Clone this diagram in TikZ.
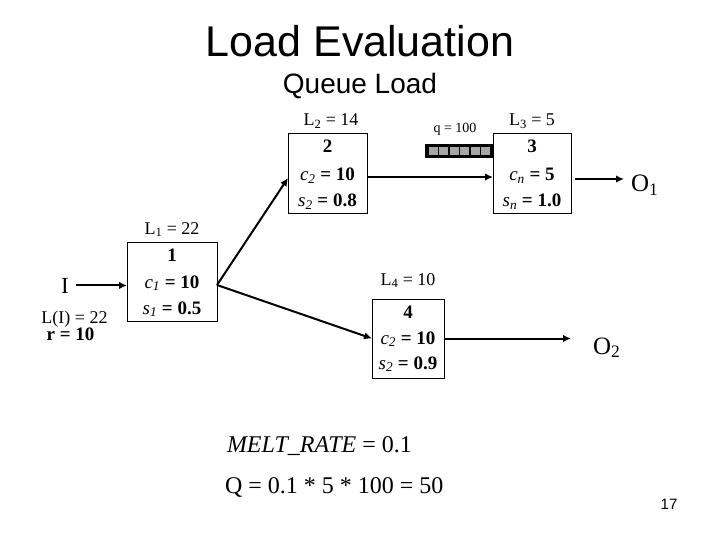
\documentclass[tikz,border=0pt]{standalone}
\usepackage{fontspec}
\setmainfont{Liberation Serif}
\newfontfamily\arialf{Liberation Sans}
\usetikzlibrary{arrows.meta}
\begin{document}
\begin{tikzpicture}[x=1pt,y=-1pt,
  every node/.style={inner sep=0pt, outer sep=0pt},
  procbox/.style={draw=black, line width=0.9pt},
  boxtxt/.style={anchor=base, font=\fontsize{19}{22}\selectfont\bfseries},
  lbl/.style={anchor=base, font=\fontsize{18}{21}\selectfont},
  conn/.style={line width=2pt, -{Latex[length=8pt,width=7.5pt]}},
  cell/.style={fill=black!35, draw=none},
]
\useasboundingbox (0,0) rectangle (720,540);
% titles
\node[anchor=base, font=\arialf\fontsize{43}{50}\selectfont] (title) at (360,57) {Load Evaluation};
\node[anchor=base, font=\arialf\fontsize{28}{32}\selectfont] (subtitle) at (360,94) {Queue Load};

% input
\node[anchor=base, font=\fontsize{23}{26}\selectfont] (inp) at (65,293) {I};
\node[lbl] (inpL) at (74.5,323) {L(I) = 22};
\node[lbl, font=\fontsize{19}{22}\selectfont\bfseries] (inpr) at (70.5,340) {r = 10};

% box 1
\node[procbox, minimum width=90, minimum height=79] (box1) at (172,281.5) {};
\node[lbl] (L1) at (172,234) {L\textsubscript{1} = 22};
\node[boxtxt] (b1a) at (172,261) {1};
\node[boxtxt] (b1b) at (172,288) {{\mdseries\itshape c\textsubscript{1}} = 10};
\node[boxtxt] (b1c) at (172,314) {{\mdseries\itshape s\textsubscript{1}} = 0.5};

% box 2
\node[procbox, minimum width=79, minimum height=80] (box2) at (327.5,173) {};
\node[lbl] (L2) at (331,126) {L\textsubscript{2} = 14};
\node[boxtxt] (b2a) at (327.5,153) {2};
\node[boxtxt] (b2b) at (327.5,181) {{\mdseries\itshape c\textsubscript{2}} = 10};
\node[boxtxt] (b2c) at (327.5,207) {{\mdseries\itshape s\textsubscript{2}} = 0.8};

% box 3
\node[procbox, minimum width=78, minimum height=80] (box3) at (532,173) {};
\node[lbl] (L3) at (532,126) {L\textsubscript{3} = 5};
\node[boxtxt] (b3a) at (532,153) {3};
\node[boxtxt] (b3b) at (532,181) {{\mdseries\itshape c\textsubscript{n}} = 5};
\node[boxtxt] (b3c) at (532,207) {{\mdseries\itshape s\textsubscript{n}} = 1.0};

% box 4
\node[procbox, minimum width=72, minimum height=79] (box4) at (408,338.5) {};
\node[lbl] (L4) at (408,285) {L\textsubscript{4} = 10};
\node[boxtxt] (b4a) at (408,318) {4};
\node[boxtxt] (b4b) at (408,344) {{\mdseries\itshape c\textsubscript{2}} = 10};
\node[boxtxt] (b4c) at (408,369) {{\mdseries\itshape s\textsubscript{2}} = 0.9};

% queue
\node[anchor=base, font=\fontsize{14}{16}\selectfont] (qlbl) at (455,132.5) {q = 100};
\fill[black] (425,144) rectangle (494,158);
\foreach \i in {0,...,5} {
  \fill[cell] ({428+10.5*\i+0.9},147) rectangle ({428+10.5*(\i+1)-0.9},155);
}

% outputs
\node[anchor=base west, font=\fontsize{25}{28}\selectfont] (o1) at (631,192) {O\textsubscript{1}};
\node[anchor=base west, font=\fontsize{25}{28}\selectfont] (o2) at (593,354) {O\textsubscript{2}};

% connectors
\path (inp.east) ++(7pt,0) coordinate (inpstart);
\draw[conn] (inpstart) -- (inpstart -| box1.west);
\draw[conn] ([yshift=-3.5pt]box1.east) -- ([yshift=-5pt]box2.west);
\draw[conn] ([yshift=-3.5pt]box1.east) -- (box4.west);
\draw[conn] ([yshift=-4pt]box2.east) -- ([yshift=-4pt]box3.west);
\draw[conn, shorten <=4pt, shorten >=7pt] ([yshift=-6pt]box3.east) -- ([yshift=-6pt]box3.east -| o1.west);
\draw[conn, shorten >=22pt] (box4.east) -- (box4.east -| o2.west);

% bottom text
\node[anchor=base west, font=\fontsize{24}{28}\selectfont] (melt) at (227,452) {\textit{MELT\_RATE} = 0.1};
\node[anchor=base west, font=\fontsize{24}{28}\selectfont] (qeq) at (225,493) {Q = 0.1 * 5 * 100 = 50};
\node[anchor=base, font=\arialf\fontsize{15}{18}\selectfont] (pnum) at (669,509) {17};
\end{tikzpicture}
\end{document}
